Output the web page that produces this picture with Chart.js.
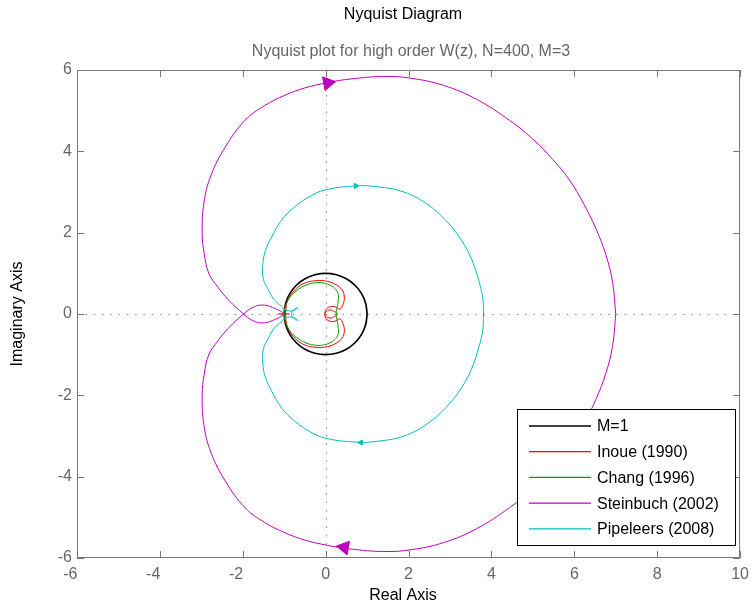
<!DOCTYPE html>
<html>
<head>
<meta charset="utf-8">
<title>Nyquist Diagram</title>
<script src="https://cdn.jsdelivr.net/npm/chart.js@4.4.1/dist/chart.umd.min.js"></script>
<style>
  html, body { margin: 0; padding: 0; background: #fff; }
  #wrap { width: 756px; height: 608px; }
</style>
</head>
<body>
<div id="wrap"><canvas id="nyquist" width="756" height="608"></canvas></div>
<script>
// Axis ticks
const xTicks = [-6, -4, -2, 0, 2, 4, 6, 8, 10];
const yTicks = [-6, -4, -2, 0, 2, 4, 6];

// M=1 reference circle
const circleRe = [1, 0.966, 0.866, 0.707, 0.5, 0.259, 0, -0.259, -0.5, -0.707, -0.866, -0.966, -1,
                  -0.966, -0.866, -0.707, -0.5, -0.259, 0, 0.259, 0.5, 0.707, 0.866, 0.966, 1];
const circleIm = [0, 0.259, 0.5, 0.707, 0.866, 0.966, 1, 0.966, 0.866, 0.707, 0.5, 0.259, 0,
                  -0.259, -0.5, -0.707, -0.866, -0.966, -1, -0.966, -0.866, -0.707, -0.5, -0.259, 0];

// Inoue (1990)
const inoueRe = [-0.97, -0.93, -0.78, -0.55, -0.23, 0.05, 0.25, 0.40, 0.45, 0.42, 0.34, 0.22, 0.08, -0.01, 0.00, 0.10, 0.22, 0.28,
                 0.22, 0.10, 0.00, -0.01, 0.08, 0.22, 0.34, 0.42, 0.45, 0.40, 0.25, 0.05, -0.23, -0.55, -0.78, -0.93, -0.97];
const inoueIm = [0, 0.30, 0.55, 0.74, 0.82, 0.80, 0.72, 0.59, 0.42, 0.24, 0.12, 0.18, 0.17, 0.08, -0.04, -0.10, -0.06, 0,
                 0.06, 0.10, 0.04, -0.08, -0.17, -0.18, -0.12, -0.24, -0.42, -0.59, -0.72, -0.80, -0.82, -0.74, -0.55, -0.30, 0];
const inoueTailRe = [-1.14, -0.87];
const inoueTailIm = [0, 0];

// Chang (1996)
const changRe = [0.25, 0.27, 0.30, 0.30, 0.22, 0.08, -0.10, -0.23, -0.45, -0.71, -0.92, -1.00,
                 -0.92, -0.71, -0.45, -0.23, -0.10, 0.08, 0.22, 0.30, 0.30, 0.27, 0.25];
const changIm = [0, 0.12, 0.30, 0.50, 0.63, 0.72, 0.77, 0.77, 0.72, 0.57, 0.32, 0,
                 -0.32, -0.57, -0.72, -0.77, -0.77, -0.72, -0.63, -0.50, -0.30, -0.12, 0];

// Steinbuch (2002)
const steinbuchRe = [7.00, 6.92, 6.76, 6.52, 6.22, 5.88, 5.48, 5.00, 4.44, 3.64, 2.85, 2.04, 1.40, 0.61, 0.05, -0.50, -0.98,
                     -1.48, -1.94, -2.42, -2.77, -2.94, -2.98, -2.93, -2.82, -2.60, -2.34,
                     -1.98, -1.78, -1.55, -1.28, -1.03, -1.28, -1.55, -1.78, -1.98,
                     -2.34, -2.60, -2.82, -2.93, -2.98, -2.94, -2.77, -2.42, -1.94, -1.48,
                     -0.98, -0.50, 0.05, 0.61, 1.40, 2.04, 2.85, 3.64, 4.44, 5.00, 5.48, 5.88, 6.22, 6.52, 6.76, 6.92, 7.00];
const steinbuchIm = [0, -0.80, -1.46, -2.10, -2.72, -3.30, -3.80, -4.30, -4.76, -5.28, -5.62, -5.80, -5.84, -5.78, -5.69, -5.56, -5.38,
                     -5.12, -4.77, -4.11, -3.40, -2.72, -1.98, -1.48, -1.00, -0.66, -0.34,
                     0, 0.15, 0.22, 0.16, 0, -0.16, -0.22, -0.15, 0,
                     0.34, 0.66, 1.00, 1.48, 1.98, 2.72, 3.40, 4.11, 4.77, 5.12,
                     5.38, 5.56, 5.69, 5.78, 5.84, 5.80, 5.62, 5.28, 4.76, 4.30, 3.80, 3.30, 2.72, 2.10, 1.46, 0.80, 0];
const steinbuchArrowRe = [0.05, 0.45];
const steinbuchArrowIm = [5.68, -5.74];
const steinbuchArrowDir = [80, 280];

// Pipeleers (2008)
const pipeleersRe = [3.81, 3.79, 3.70, 3.52, 3.26, 2.90, 2.45, 1.89, 1.25, 0.73, -0.02, -0.40, -0.74, -1.07, -1.30, -1.46,
                     -1.52, -1.50, -1.38, -1.25, -1.06, -0.98, -0.78, -0.67, -0.80, -0.82, -0.80, -0.67, -0.78, -0.98,
                     -1.06, -1.25, -1.38, -1.50, -1.52, -1.46, -1.30, -1.07, -0.74, -0.40, -0.02, 0.73, 1.25, 1.89,
                     2.45, 2.90, 3.26, 3.52, 3.70, 3.79, 3.81];
const pipeleersIm = [0, -0.40, -0.80, -1.35, -1.84, -2.30, -2.70, -3.00, -3.13, -3.15, -3.05, -2.88, -2.64, -2.30, -1.90, -1.54,
                     -1.16, -0.85, -0.59, -0.36, -0.18, -0.10, -0.08, -0.16, -0.08, 0, 0.08, 0.16, 0.08, 0.10,
                     0.18, 0.36, 0.59, 0.85, 1.16, 1.54, 1.90, 2.30, 2.64, 2.88, 3.05, 3.15, 3.13, 3.00,
                     2.70, 2.30, 1.84, 1.35, 0.80, 0.40, 0];
const pipeleersArrowRe = [0.73, 0.85];
const pipeleersArrowIm = [3.15, -3.16];
const pipeleersArrowDir = [89, 271];

const TITLE = 'Nyquist Diagram';
const SUBTITLE = 'Nyquist plot for high order W(z), N=400, M=3';
const FONT = '"Liberation Sans", Arial, Helvetica, sans-serif';

const BLACK = '#000000';
const RED = '#ff0000';
const GREEN = '#00a000';
const MAGENTA = '#bf00bf';
const CYAN = '#00bfbf';

function pts(re, im) {
    return re.map((v, i) => ({ x: v, y: im[i] }));
}

function curve(label, re, im, color, width, order, inLegend) {
    return {
        label: label,
        data: pts(re, im),
        showLine: true,
        borderColor: color,
        backgroundColor: color,
        borderWidth: width,
        pointRadius: 0,
        tension: 0.4,
        fill: false,
        order: order,
        swatch: inLegend ? color : null
    };
}

function arrows(label, re, im, dir, color, size, order) {
    return {
        label: label,
        data: pts(re, im),
        showLine: false,
        pointStyle: 'triangle',
        pointRadius: size,
        pointRotation: dir,
        borderColor: color,
        backgroundColor: color,
        borderWidth: 1,
        order: order,
        swatch: null
    };
}

// Box, inner ticks, zero lines, legend and titles
const frame = {
    id: 'frame',
    beforeDatasetsDraw(chart) {
        const { ctx, chartArea: a, scales: { x, y } } = chart;
        const x0 = Math.round(x.getPixelForValue(0)) + 0.5;
        const y0 = Math.round(y.getPixelForValue(0)) + 0.5;
        ctx.save();
        ctx.strokeStyle = '#8a8a8a';
        ctx.lineWidth = 1;
        ctx.setLineDash([1.5, 6.8]);
        ctx.beginPath();
        ctx.moveTo(a.left, y0); ctx.lineTo(a.right, y0);
        ctx.moveTo(x0, a.top); ctx.lineTo(x0, a.bottom);
        ctx.stroke();
        ctx.restore();
    },
    afterDatasetsDraw(chart) {
        const { ctx, chartArea: a, scales: { x, y } } = chart;
        const tick = 7;
        ctx.save();
        ctx.strokeStyle = '#767676';
        ctx.lineWidth = 1;
        ctx.beginPath();
        ctx.rect(a.left + 0.5, a.top + 0.5, a.right - a.left - 1, a.bottom - a.top - 1);
        xTicks.forEach(v => {
            const px = Math.round(x.getPixelForValue(v)) + 0.5;
            ctx.moveTo(px, a.bottom); ctx.lineTo(px, a.bottom - tick);
            ctx.moveTo(px, a.top); ctx.lineTo(px, a.top + tick);
        });
        yTicks.forEach(v => {
            const py = Math.round(y.getPixelForValue(v)) + 0.5;
            ctx.moveTo(a.left, py); ctx.lineTo(a.left + tick, py);
            ctx.moveTo(a.right, py); ctx.lineTo(a.right - tick, py);
        });
        ctx.stroke();

        // legend in the lower right corner
        const items = chart.data.datasets.filter(d => d.swatch);
        const bx = 517, by = 409, bw = 218, bh = 136;
        ctx.fillStyle = '#ffffff';
        ctx.fillRect(bx, by, bw, bh);
        ctx.strokeStyle = '#000000';
        ctx.strokeRect(bx + 0.5, by + 0.5, bw, bh);
        ctx.font = '16px ' + FONT;
        ctx.textAlign = 'left';
        ctx.textBaseline = 'middle';
        items.forEach((d, i) => {
            const ry = by + 17 + i * 25.7;
            ctx.strokeStyle = d.swatch;
            ctx.lineWidth = 1.3;
            ctx.beginPath();
            ctx.moveTo(529, ry);
            ctx.lineTo(591, ry);
            ctx.stroke();
            ctx.fillStyle = '#000000';
            ctx.fillText(d.label, 597, ry + 1);
        });
        ctx.restore();
    },
    afterDraw(chart) {
        const { ctx } = chart;
        ctx.save();
        ctx.font = '16px ' + FONT;
        ctx.textAlign = 'center';
        ctx.textBaseline = 'middle';
        ctx.fillStyle = '#000000';
        ctx.fillText(TITLE, 403, 15);
        ctx.fillText('Real Axis', 403, 596);
        ctx.fillStyle = '#666666';
        ctx.fillText(SUBTITLE, 411, 52);
        ctx.fillStyle = '#000000';
        ctx.translate(18, 314);
        ctx.rotate(-Math.PI / 2);
        ctx.fillText('Imaginary Axis', 0, 0);
        ctx.restore();
    }
};

const tickFont = { family: FONT, size: 16 };

new Chart(document.getElementById('nyquist'), {
    type: 'line',
    data: {
        datasets: [
            curve('M=1', circleRe, circleIm, BLACK, 1.7, 6, true),
            curve('Inoue (1990)', inoueRe, inoueIm, RED, 1, 5, true),
            curve('Inoue tail', inoueTailRe, inoueTailIm, RED, 1.2, 5, false),
            curve('Chang (1996)', changRe, changIm, GREEN, 1, 4, true),
            curve('Steinbuch (2002)', steinbuchRe, steinbuchIm, MAGENTA, 1, 3, true),
            curve('Pipeleers (2008)', pipeleersRe, pipeleersIm, CYAN, 1, 2, true),
            arrows('Steinbuch direction', steinbuchArrowRe, steinbuchArrowIm, steinbuchArrowDir, MAGENTA, 8, 1),
            arrows('Pipeleers direction', pipeleersArrowRe, pipeleersArrowIm, pipeleersArrowDir, CYAN, 3, 1)
        ]
    },
    options: {
        responsive: false,
        animation: false,
        events: [],
        layout: { padding: { top: 70, right: 10, left: 0, bottom: 0 } },
        plugins: {
            legend: { display: false },
            title: { display: false },
            tooltip: { enabled: false }
        },
        scales: {
            x: {
                type: 'linear',
                position: 'bottom',
                min: xTicks[0],
                max: xTicks[xTicks.length - 1],
                afterBuildTicks: s => { s.ticks = xTicks.map(v => ({ value: v })); },
                afterFit: s => { s.height = 50; },
                grid: { display: false, drawTicks: false },
                border: { display: false },
                ticks: {
                    color: '#666666',
                    font: tickFont,
                    padding: 7,
                    maxRotation: 0,
                    autoSkip: false,
                    // keep the digit centred under the tick, minus sign hanging left
                    callback: v => v < 0 ? v + '   ' : '' + v
                }
            },
            y: {
                type: 'linear',
                position: 'left',
                min: yTicks[0],
                max: yTicks[yTicks.length - 1],
                afterBuildTicks: s => { s.ticks = yTicks.map(v => ({ value: v })); },
                afterFit: s => { s.width = 77; },
                grid: { display: false, drawTicks: false },
                border: { display: false },
                ticks: {
                    color: '#666666',
                    font: tickFont,
                    padding: 5,
                    autoSkip: false
                }
            }
        }
    },
    plugins: [frame]
});
</script>
</body>
</html>
